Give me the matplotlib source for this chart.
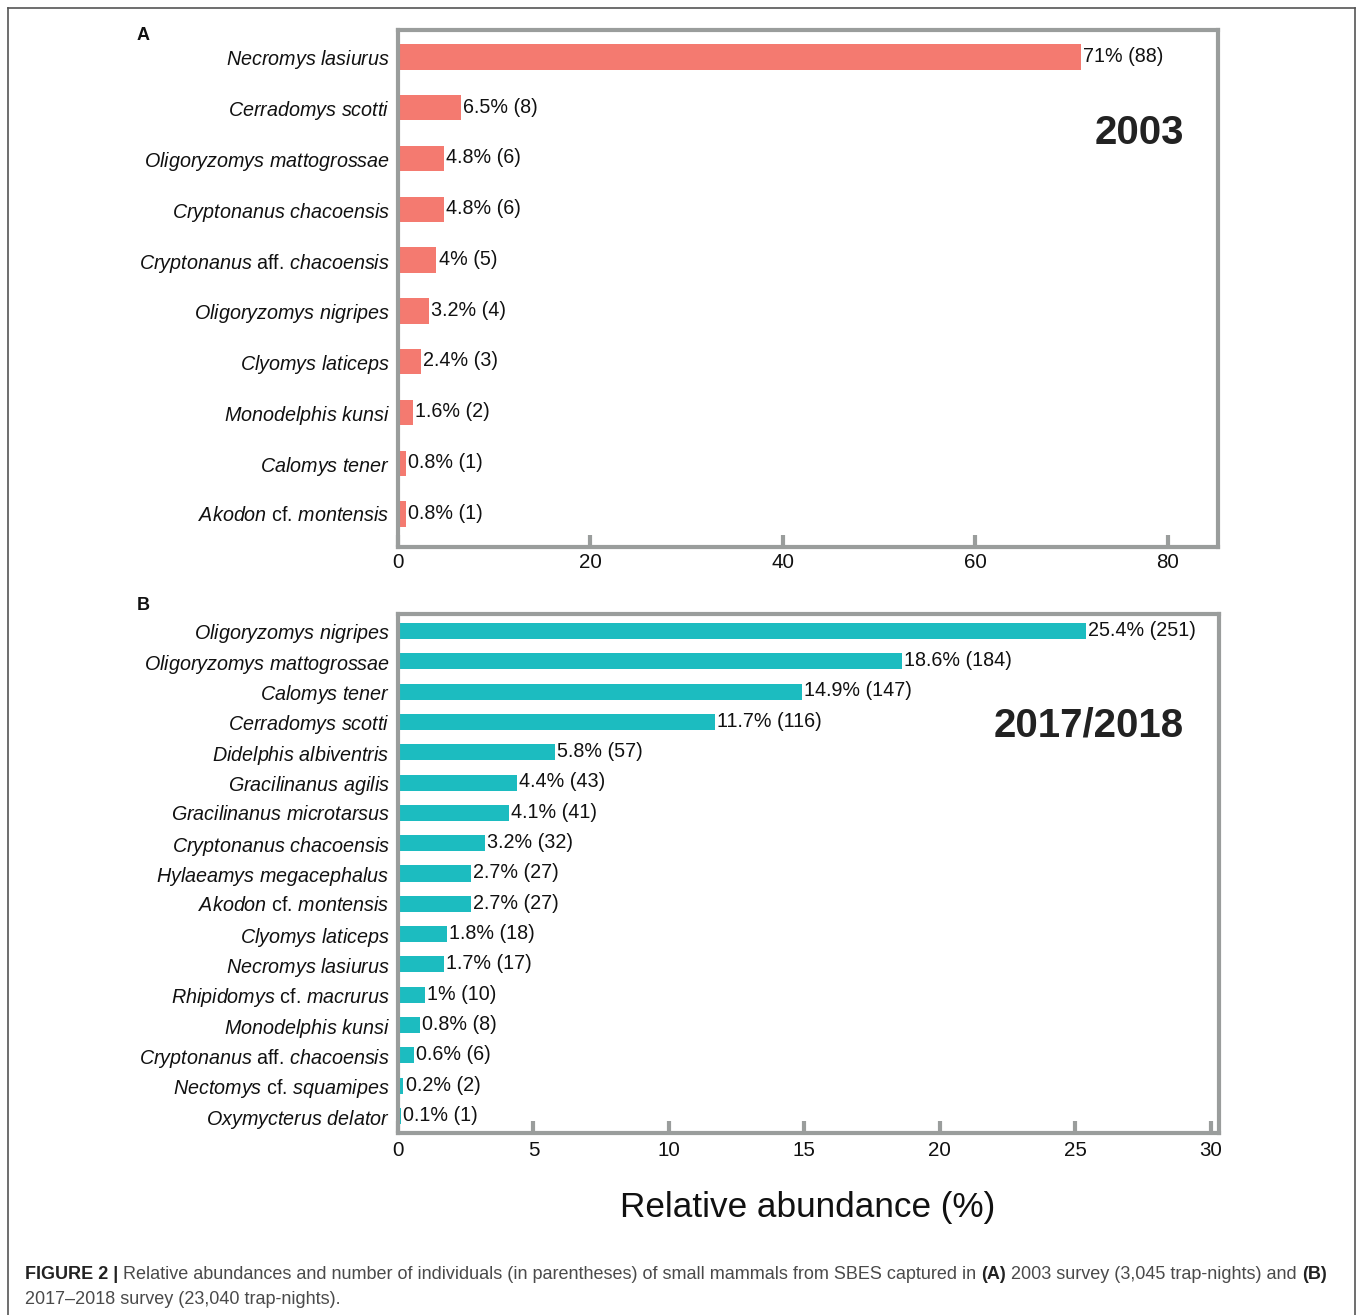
import matplotlib
matplotlib.use("Agg")
import matplotlib.pyplot as plt
import matplotlib.transforms as mtransforms
from matplotlib.lines import Line2D

plt.rcParams["font.family"] = ["Liberation Sans", "DejaVu Sans"]
plt.rcParams["mathtext.fontset"] = "custom"
plt.rcParams["mathtext.rm"] = "Liberation Sans"
plt.rcParams["mathtext.it"] = "Liberation Sans:italic"
plt.rcParams["mathtext.bf"] = "Liberation Sans:bold"

# ---- data -------------------------------------------------------------
species_2003 = [
    "Necromys lasiurus", "Cerradomys scotti", "Oligoryzomys mattogrossae",
    "Cryptonanus chacoensis", "Cryptonanus aff. chacoensis",
    "Oligoryzomys nigripes", "Clyomys laticeps", "Monodelphis kunsi",
    "Calomys tener", "Akodon cf. montensis",
]
pct_2003 = [71, 6.5, 4.8, 4.8, 4, 3.2, 2.4, 1.6, 0.8, 0.8]
n_2003 = [88, 8, 6, 6, 5, 4, 3, 2, 1, 1]

species_2017 = [
    "Oligoryzomys nigripes", "Oligoryzomys mattogrossae", "Calomys tener",
    "Cerradomys scotti", "Didelphis albiventris", "Gracilinanus agilis",
    "Gracilinanus microtarsus", "Cryptonanus chacoensis",
    "Hylaeamys megacephalus", "Akodon cf. montensis", "Clyomys laticeps",
    "Necromys lasiurus", "Rhipidomys cf. macrurus", "Monodelphis kunsi",
    "Cryptonanus aff. chacoensis", "Nectomys cf. squamipes",
    "Oxymycterus delator",
]
pct_2017 = [25.4, 18.6, 14.9, 11.7, 5.8, 4.4, 4.1, 3.2, 2.7, 2.7, 1.8, 1.7,
            1, 0.8, 0.6, 0.2, 0.1]
n_2017 = [251, 184, 147, 116, 57, 43, 41, 32, 27, 27, 18, 17, 10, 8, 6, 2, 1]

xticks_a = [0, 20, 40, 60, 80]
xticks_b = [0, 5, 10, 15, 20, 25, 30]

caption_line1 = [
    ("FIGURE 2 |", True),
    (" Relative abundances and number of individuals (in parentheses) of "
     "small mammals from SBES captured in ", False),
    ("(A)", True),
    (" 2003 survey (3,045 trap-nights) and ", False),
    ("(B)", True),
]
caption_line2 = "2017\u20132018 survey (23,040 trap-nights)."

COL_A = "#F47A70"
COL_B = "#1CBCC0"
SPINE = "#9A9D9C"
TXT = "#111111"
W, H = 1358, 1315
LABEL_FS = 14.2


def species_label(name):
    """Italicise genus/species names, keep 'aff.' and 'cf.' upright."""
    parts = []
    for word in name.split(" "):
        if word in ("aff.", "cf."):
            parts.append(word)
        else:
            parts.append(r"$\mathit{" + word + "}$")
    return " ".join(parts)


def panel(rect, names, pcts, counts, color, xmax, ticks, bar_h, pad_top,
          pad_bottom, label_dy, year, year_pos):
    ax = fig.add_axes(rect)
    y = list(range(len(names)))
    ax.barh(y, pcts, height=bar_h, color=color, edgecolor="none", zorder=2)
    for yi, p, c in zip(y, pcts, counts):
        ax.annotate(f"{p:g}% ({c})", xy=(p, yi), xytext=(1.5, 0.5),
                    textcoords="offset points", ha="left", va="center",
                    fontsize=LABEL_FS, color=TXT)
    ax.set_xlim(0, xmax)
    ax.set_ylim(len(names) - 1 + pad_bottom, -pad_top)
    ax.set_yticks(y)
    ax.set_yticklabels([species_label(s) for s in names], fontsize=LABEL_FS,
                       color=TXT)
    shift = mtransforms.ScaledTranslation(0, label_dy / 72, fig.dpi_scale_trans)
    for lab in ax.get_yticklabels():
        lab.set_transform(lab.get_transform() + shift)
    ax.set_xticks(ticks)
    ax.set_xticklabels([str(t) for t in ticks], fontsize=14.8, color=TXT)
    ax.tick_params(axis="y", length=0, pad=6)
    ax.tick_params(axis="x", direction="in", length=9, width=3,
                   color=SPINE, pad=4)
    for s in ax.spines.values():
        s.set_color(SPINE)
        s.set_linewidth(3)
    ax.text(year_pos[0], year_pos[1], year, transform=ax.transAxes,
            ha="right", va="center", fontsize=29, fontweight="bold",
            color="#222222")
    return ax


fig = plt.figure(figsize=(W / 100, H / 100), dpi=100)

# panel A: 2003 survey
panel([398 / W, 1 - 547 / H, 820 / W, 517 / H], species_2003, pct_2003,
      n_2003, COL_A, 85.2, xticks_a, 0.5, 0.53, 0.65, 2.6,
      "2003", (0.9585, 0.80))

# panel B: 2017/2018 survey
axb = panel([398 / W, 1 - 1133 / H, 821 / W, 519 / H], species_2017, pct_2017,
            n_2017, COL_B, 30.3, xticks_b, 0.53, 0.56, 0.56, 0.0,
            "2017/2018", (0.957, 0.786))
axb.tick_params(axis="x", pad=6)

fig.text(143 / W, 1 - 35 / H, "A", ha="center", va="center", fontsize=13,
         fontweight="bold", color=TXT)
fig.text(143 / W, 1 - 605 / H, "B", ha="center", va="center", fontsize=13,
         fontweight="bold", color=TXT)
fig.text(808 / W, 1 - 1207 / H, "Relative abundance (%)", ha="center",
         va="center", fontsize=25.3, color=TXT)

# ---- caption: bold and regular pieces on a shared baseline ------------
renderer = fig.canvas.get_renderer()
cap_fs = 12.6
x0_px, target_px = 25, 1300


def piece_kw(bold, fs):
    return dict(fontsize=fs, fontweight="bold" if bold else "normal",
                color="#222222" if bold else "#4a4a4a", va="baseline",
                ha="left")


# measure the first line and scale the font so it spans the target width
probe = [fig.text(0, 0, t, **piece_kw(b, cap_fs)) for t, b in caption_line1]
total = sum(p.get_window_extent(renderer).width for p in probe)
for p in probe:
    p.remove()
cap_fs *= target_px / total

x_px = x0_px
for t, b in caption_line1:
    art = fig.text(x_px / W, 1 - 1279 / H, t, **piece_kw(b, cap_fs))
    x_px += art.get_window_extent(renderer).width
fig.text(x0_px / W, 1 - 1304 / H, caption_line2, **piece_kw(False, cap_fs))

# outer frame (open at the bottom)
fx0, fx1, fy1 = 8 / W, 1355 / W, 1 - 8 / H
for xs, ys in [((fx0, fx0), (0, fy1)), ((fx0, fx1), (fy1, fy1)),
               ((fx1, fx1), (fy1, 0))]:
    fig.add_artist(Line2D(xs, ys, transform=fig.transFigure,
                          color="#555555", lw=1.2))

fig.savefig("out.png", dpi=100)
